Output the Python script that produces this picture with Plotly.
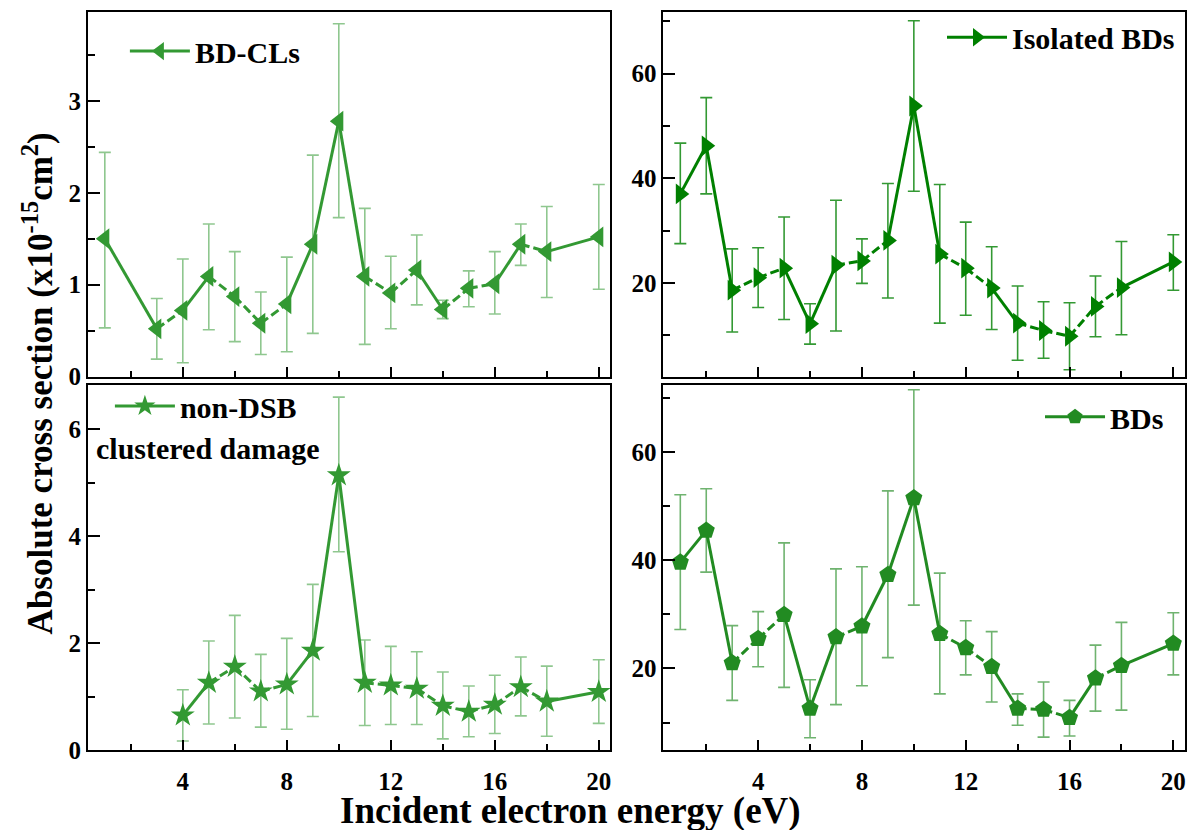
import plotly.graph_objects as go
import math

W, H = 1189, 830

# ---------------- data ----------------
energy_cl = [1, 3, 4, 5, 6, 7, 8, 9, 10, 11, 12, 13, 14, 15, 16, 17, 18, 20]
bdcl = [1.50, 0.52, 0.72, 1.09, 0.87, 0.58, 0.79, 1.44, 2.78, 1.09, 0.91, 1.16, 0.73, 0.96, 1.01, 1.44, 1.36, 1.52]
bdcl_hi = [2.44, 0.85, 1.28, 1.66, 1.36, 0.92, 1.30, 2.41, 3.84, 1.83, 1.31, 1.54, 0.83, 1.15, 1.36, 1.66, 1.85, 2.09]
bdcl_lo = [0.53, 0.19, 0.15, 0.51, 0.38, 0.24, 0.27, 0.47, 1.73, 0.35, 0.52, 0.78, 0.63, 0.76, 0.68, 1.21, 0.86, 0.95]

energy_iso = [1, 2, 3, 4, 5, 6, 7, 8, 9, 10, 11, 12, 13, 14, 15, 16, 17, 18, 20]
iso = [37.0, 46.2, 18.6, 21.0, 22.8, 12.2, 23.4, 24.2, 28.1, 53.8, 25.5, 22.8, 19.0, 12.3, 10.9, 9.8, 15.5, 19.1, 24.0]
iso_hi = [46.7, 55.4, 26.5, 26.7, 32.6, 16.0, 35.8, 28.4, 39.0, 70.1, 38.8, 31.6, 26.9, 19.4, 16.4, 16.2, 21.3, 27.9, 29.2]
iso_lo = [27.5, 37.0, 10.6, 15.3, 13.0, 8.3, 10.8, 19.9, 17.1, 37.5, 12.3, 13.8, 11.1, 5.2, 5.6, 3.4, 9.7, 10.1, 18.6]

energy_nd = [4, 5, 6, 7, 8, 9, 10, 11, 12, 13, 14, 15, 16, 17, 18, 20]
nondsb = [0.65, 1.26, 1.56, 1.10, 1.23, 1.86, 5.14, 1.26, 1.21, 1.15, 0.83, 0.72, 0.85, 1.18, 0.91, 1.09]
nondsb_hi = [1.13, 2.04, 2.52, 1.79, 2.09, 3.10, 6.60, 2.06, 1.94, 1.84, 1.46, 1.20, 1.40, 1.74, 1.57, 1.69]
nondsb_lo = [0.17, 0.49, 0.60, 0.43, 0.39, 0.63, 3.71, 0.46, 0.48, 0.48, 0.21, 0.25, 0.31, 0.64, 0.26, 0.50]

energy_bd = [1, 2, 3, 4, 5, 6, 7, 8, 9, 10, 11, 12, 13, 14, 15, 16, 17, 18, 20]
bds = [39.6, 45.5, 21.0, 25.5, 29.9, 12.6, 25.8, 27.8, 37.3, 51.5, 26.4, 23.8, 20.3, 12.6, 12.4, 10.9, 18.2, 20.5, 24.6]
bds_hi = [52.1, 53.2, 27.9, 30.5, 43.2, 17.9, 38.4, 38.8, 52.8, 71.5, 37.6, 28.8, 26.8, 15.3, 17.5, 14.1, 24.3, 28.5, 30.3]
bds_lo = [27.2, 37.8, 14.1, 20.3, 16.5, 7.2, 13.3, 16.8, 22.0, 31.7, 15.3, 18.8, 13.8, 9.5, 7.3, 7.5, 12.1, 12.3, 18.8]

x_ticks = [4, 8, 12, 16, 20]

# ---------------- layout geometry ----------------
xL = [88 / W, 611 / W]
xR = [664 / W, 1186 / W]
yT = [1 - 383 / H, 1 - 12 / H]
yB = [1 - 763 / H, 1 - 392 / H]
xrange_ = [0.35, 20.45]

FONT = "Liberation Serif"

panels = [
    dict(ax="", x=energy_cl, y=bdcl, hi=bdcl_hi, lo=bdcl_lo, name="BD-CLs",
         symbol="triangle-left", color="#339933", ecolor="rgba(51,153,51,0.55)",
         xd=xL, yd=yT, yr=[0, 3.97], dt=1, mdt=0.5, legend="legend", showx=False),
    dict(ax="2", x=energy_iso, y=iso, hi=iso_hi, lo=iso_lo, name="Isolated BDs",
         symbol="triangle-right", color="#008000", ecolor="rgba(0,128,0,0.8)",
         xd=xR, yd=yT, yr=[2.1, 71.8], dt=20, mdt=10, legend="legend2", showx=False),
    dict(ax="3", x=energy_nd, y=nondsb, hi=nondsb_hi, lo=nondsb_lo, name="non-DSB",
         symbol="star", color="#339933", ecolor="rgba(51,153,51,0.55)",
         xd=xL, yd=yB, yr=[0, 6.82], dt=2, mdt=1, legend="legend3", showx=True),
    dict(ax="4", x=energy_bd, y=bds, hi=bds_hi, lo=bds_lo, name="BDs",
         symbol="pentagon", color="#228B22", ecolor="rgba(34,139,34,0.65)",
         xd=xR, yd=yB, yr=[4.9, 72.3], dt=20, mdt=10, legend="legend4", showx=True),
]

fig = go.Figure()
layout = dict(width=W, height=H, margin=dict(l=0, r=0, t=0, b=0),
              paper_bgcolor="white", plot_bgcolor="white", showlegend=True)

for p in panels:
    xa = "x" + p["ax"]
    ya = "y" + p["ax"]
    pxx = (p["xd"][1] - p["xd"][0]) * W / (xrange_[1] - xrange_[0])
    pxy = (p["yd"][1] - p["yd"][0]) * H / (p["yr"][1] - p["yr"][0])
    # error bars (behind everything)
    fig.add_trace(go.Scatter(
        x=p["x"], y=p["y"], xaxis=xa, yaxis=ya, mode="markers",
        marker=dict(size=1, color="rgba(0,0,0,0)"), showlegend=False, hoverinfo="skip",
        error_y=dict(type="data", symmetric=False,
                     array=[h - v for h, v in zip(p["hi"], p["y"])],
                     arrayminus=[v - l for v, l in zip(p["y"], p["lo"])],
                     color=p["ecolor"], thickness=1.6, width=6)))
    # connecting segments
    for i in range(len(p["x"]) - 1):
        dx = (p["x"][i + 1] - p["x"][i]) * pxx
        dy = (p["y"][i + 1] - p["y"][i]) * pxy
        seglen = math.hypot(dx, dy)
        fig.add_trace(go.Scatter(
            x=p["x"][i:i + 2], y=p["y"][i:i + 2], xaxis=xa, yaxis=ya, mode="lines",
            line=dict(color=p["color"], width=3,
                      dash="solid" if seglen > 40 else "9px,4px"),
            showlegend=False, hoverinfo="skip"))
    # markers
    fig.add_trace(go.Scatter(
        x=p["x"], y=p["y"], xaxis=xa, yaxis=ya, mode="markers",
        marker=dict(symbol=p["symbol"], size=18, color=p["color"], line=dict(width=0)),
        showlegend=False))
    # legend entry
    fig.add_trace(go.Scatter(
        x=[None], y=[None], xaxis=xa, yaxis=ya, mode="lines+markers", name=p["name"],
        line=dict(color=p["color"], width=3),
        marker=dict(symbol=p["symbol"], size=18, color=p["color"]),
        legend=p["legend"]))

    axis_common = dict(showline=True, linecolor="black", linewidth=2, mirror=True,
                       showgrid=False, zeroline=False, ticks="inside",
                       tickcolor="black", tickwidth=2,
                       tickfont=dict(family=FONT, size=25, color="black", weight="bold"))
    layout["xaxis" + p["ax"]] = dict(
        axis_common, domain=p["xd"], range=xrange_, anchor=ya,
        tickmode="array", tickvals=x_ticks, ticktext=[str(t) for t in x_ticks],
        ticklen=10, showticklabels=p["showx"], ticklabelstandoff=8,
        minor=dict(ticks="inside", tickvals=[2, 6, 10, 14, 18], ticklen=6,
                   tickwidth=2, tickcolor="black"))
    layout["yaxis" + p["ax"]] = dict(
        axis_common, domain=p["yd"], range=p["yr"], anchor=xa,
        tick0=0, dtick=p["dt"], ticklen=12,
        minor=dict(ticks="inside", tick0=0, dtick=p["mdt"], ticklen=7,
                   tickwidth=2, tickcolor="black"))

legfont = dict(family=FONT, size=30, color="black", weight="bold")
legbase = dict(font=legfont, bgcolor="rgba(0,0,0,0)", borderwidth=0,
               itemwidth=60, tracegroupgap=0)
layout["legend"] = dict(legbase, x=125 / W, y=1 - 52 / H, xanchor="left", yanchor="middle")
layout["legend2"] = dict(legbase, x=1181 / W, y=1 - 38 / H, xanchor="right", yanchor="middle")
layout["legend3"] = dict(legbase, x=110 / W, y=1 - 413 / H, xanchor="left", yanchor="middle")
layout["legend4"] = dict(legbase, x=1170 / W, y=1 - 424 / H, xanchor="right", yanchor="middle")

layout["annotations"] = [
    dict(text="clustered damage", xref="paper", yref="paper", x=94 / W, y=1 - 456 / H,
         xanchor="left", yanchor="middle", showarrow=False, font=legfont),
    dict(text="Absolute cross section (x10<sup>-15</sup>cm<sup>2</sup>)",
         xref="paper", yref="paper", x=38 / W, y=1 - 390 / H, textangle=-90,
         xanchor="center", yanchor="middle", showarrow=False,
         font=dict(family=FONT, size=35, color="black", weight="bold")),
    dict(text="Incident electron energy (eV)", xref="paper", yref="paper",
         x=571 / W, y=1 - 825 / H, xanchor="center", yanchor="middle", showarrow=False,
         font=dict(family=FONT, size=37, color="black", weight="bold")),
]

fig.update_layout(**layout)
fig.write_html("out.html",
               config={"displayModeBar": False},
               post_script="document.body.style.margin='0px';"
                           "document.body.style.overflow='hidden';")
